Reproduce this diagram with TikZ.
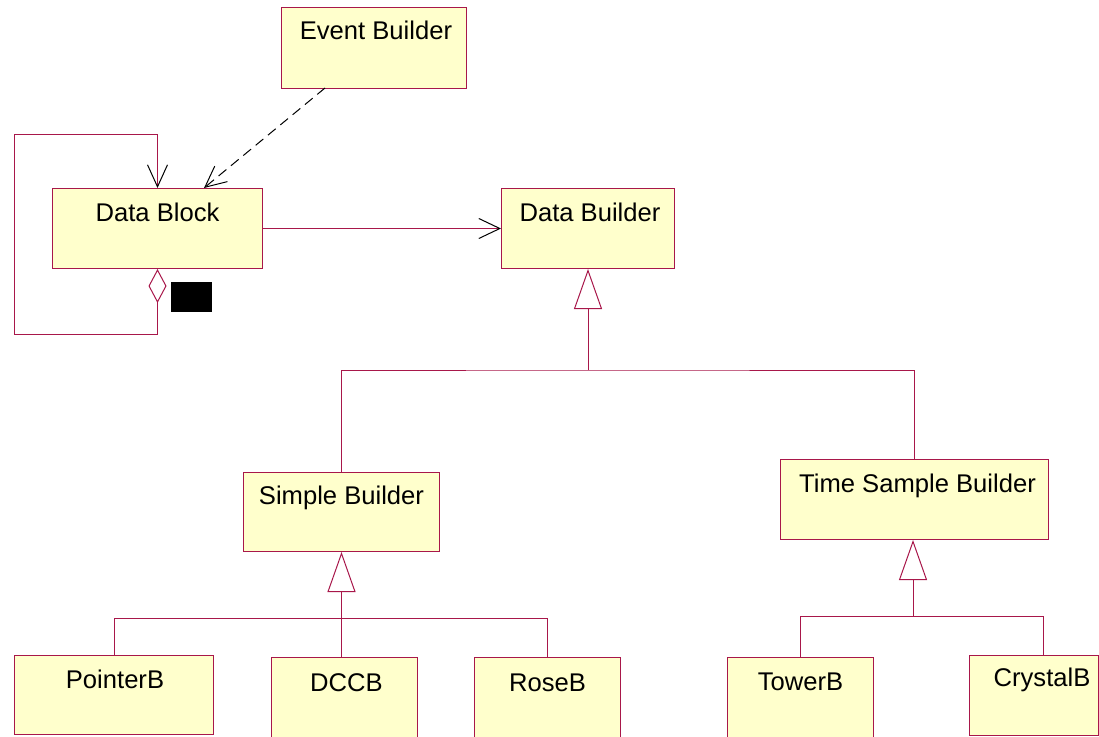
\documentclass[tikz,border=0pt]{standalone}
\usepackage{fontspec}
\setmainfont{Liberation Sans}
\usetikzlibrary{arrows.meta}
\definecolor{umlred}{HTML}{A8174A}
\definecolor{umlfill}{HTML}{FFFFCC}
\tikzset{
  cls/.style={draw=umlred, fill=umlfill, line width=1pt, inner sep=0pt, anchor=north west},
  lbl/.style={anchor=base, inner sep=0pt, font=\fontsize{25.6}{30}\selectfont},
  conn/.style={draw=umlred, line width=1pt},
  gen/.style={conn, -{Triangle[open, length=40pt, width=28pt, fill=white, color=umlred]}},
  assoc/.style={conn, -{Straight Barb[length=21pt, width=20pt, color=black, line width=1pt]}},
  dep/.style={draw=black, line width=1pt, dash pattern=on 10pt off 6pt, -{Straight Barb[length=21pt, width=20pt, line width=1pt]}}
}
\begin{document}
\begin{tikzpicture}[x=1pt, y=-1pt]
\useasboundingbox (0,0) rectangle (1099,736);
% classes
\node[cls, minimum width=185pt, minimum height=81pt] (eb) at (281,7) {};
\node[lbl] (ebt) at ([yshift=-32pt, xshift=2pt]eb.north) {Event Builder};
\node[cls, minimum width=210pt, minimum height=80pt] (dbk) at (52,188) {};
\node[lbl] (dbkt) at ([yshift=-33pt]dbk.north) {Data Block};
\node[cls, minimum width=173pt, minimum height=80pt] (dbd) at (501,188) {};
\node[lbl] (dbdt) at ([yshift=-33pt, xshift=2pt]dbd.north) {Data Builder};
\node[cls, minimum width=196pt, minimum height=79pt] (sb) at (243,472) {};
\node[lbl] (sbt) at ([yshift=-32pt]sb.north) {Simple Builder};
\node[cls, minimum width=268pt, minimum height=80pt] (tsb) at (780,459) {};
\node[lbl] (tsbt) at ([yshift=-33pt, xshift=3pt]tsb.north) {Time Sample Builder};
\node[cls, minimum width=199pt, minimum height=79pt] (pb) at (14,655) {};
\node[lbl] (pbt) at ([yshift=-33pt, xshift=1pt]pb.north) {PointerB};
\node[cls, minimum width=146pt, minimum height=82pt] (dccb) at (271,657) {};
\node[lbl] (dccbt) at ([yshift=-34pt, xshift=2pt]dccb.north) {DCCB};
\node[cls, minimum width=146pt, minimum height=82pt] (rb) at (474,657) {};
\node[lbl] (rbt) at ([yshift=-34pt]rb.north) {RoseB};
\node[cls, minimum width=146pt, minimum height=82pt] (tb) at (727,657) {};
\node[lbl] (tbt) at ([yshift=-33pt]tb.north) {TowerB};
\node[cls, minimum width=129pt, minimum height=80pt] (cb) at (969,655) {};
\node[lbl] (cbt) at ([yshift=-31pt, xshift=8pt]cb.north) {CrystalB};
% black marker
\node[fill=black, inner sep=0pt, minimum width=41pt, minimum height=30pt, anchor=north west] (blk) at (171,282) {};
% dependency
\coordinate (ebs) at (325,88);
\coordinate (dbkn) at (204,188);
\draw[dep] (ebs) -- (dbkn);
% association
\draw[assoc] (dbk.east) -- (dbd.west);
% self aggregation
\draw[conn, {Diamond[open, length=34pt, width=18pt, color=umlred, fill=white]}-{Straight Barb[length=22pt, width=20pt, color=black, line width=1pt]}]
  (dbk.south) -- ++(0,65) -| (14,134) -| (dbk.north);
% generalization: Data Builder
\coordinate (j1) at (588,370);
\draw[conn] (sb.north) |- (j1) -| (tsb.north);
\draw[gen] (j1) -- (dbd.south);
% generalization: Simple Builder
\coordinate (j2) at (341,618);
\draw[conn] (pb.north) |- (j2) -| (rb.north);
\draw[gen] (dccb.north -| sb.south) -- (sb.south);
% generalization: Time Sample Builder
\coordinate (j3) at (913,616);
\coordinate (cbn) at (1043,655);
\draw[conn] (tb.north) |- (j3) -| (cbn);
\draw[gen] (j3) -- (tsb.south -| j3);
\end{tikzpicture}
\end{document}
